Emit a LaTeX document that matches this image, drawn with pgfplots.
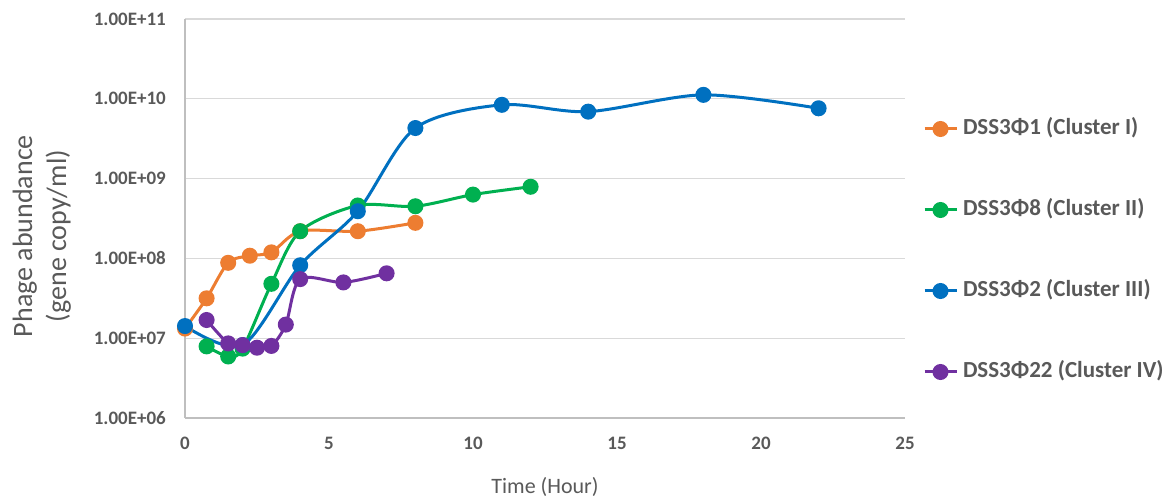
\documentclass[border=0pt]{standalone}
\usepackage{pgfplots}
\pgfplotsset{compat=1.18}
\usepackage{fontspec}
\setmainfont{Carlito}
\definecolor{c1}{HTML}{ED7D31}
\definecolor{c2}{HTML}{00B050}
\definecolor{c3}{HTML}{0070C0}
\definecolor{c4}{HTML}{7030A0}
\definecolor{txt}{HTML}{595959}
\definecolor{gridc}{HTML}{D9D9D9}
\definecolor{axl}{HTML}{BFBFBF}
\pgfplotstableread{
x y
0 1.32e7
0.75 3.16e7
1.5 8.8e7
2.25 1.08e8
3 1.19e8
4 2.19e8
6 2.19e8
8 2.79e8
}\tA
\pgfplotstableread{
x y
0.75 7.9e6
1.5 5.9e6
2 7.4e6
3 4.8e7
4 2.19e8
6 4.6e8
8 4.5e8
10 6.3e8
12 7.9e8
}\tB
\pgfplotstableread{
x y
0 1.42e7
2 8.2e6
4 8.2e7
6 3.9e8
8 4.3e9
11 8.4e9
14 6.9e9
18 1.12e10
22 7.6e9
}\tC
\pgfplotstableread{
x y
0.75 1.69e7
1.5 8.6e6
2 8.2e6
2.5 7.6e6
3 8.0e6
3.5 1.48e7
4 5.5e7
5.5 5.0e7
7 6.5e7
}\tD
\begin{document}
\begin{tikzpicture}
\path[use as bounding box] (0,0) rectangle (1170pt,502pt);
\begin{axis}[
  at={(185pt,84pt)}, anchor=south west,
  scale only axis, width=720pt, height=399pt,
  xmin=0, xmax=25, ymode=log, ymin=1e6, ymax=1e11,
  axis x line=bottom, axis y line=left,
  axis line style={-, draw=axl, line width=1.3pt},
  major tick length=0pt,
  xtick={0,5,10,15,20,25},
  xticklabels={0,5,10,15,20,25},
  ytick={1e6,1e7,1e8,1e9,1e10,1e11},
  yticklabels={1.00E+06,1.00E+07,1.00E+08,1.00E+09,1.00E+10,1.00E+11},
  minor ytick={}, yminorticks=false,
  ymajorgrids, major grid style={draw=gridc, line width=1.3pt},
  ticklabel style={font=\bfseries\fontsize{19}{22}\selectfont, text=txt, inner sep=0pt},
  xticklabel style={anchor=north, yshift=-19pt},
  yticklabel style={anchor=east, xshift=-19pt},
  xlabel={Time (Hour)},
  xlabel style={font=\fontsize{22}{26}\selectfont, text=txt, at={(axis description cs:0.5,-0.188)}, anchor=base},
  ylabel={Phage abundance\\(gene copy/ml)},
  ylabel style={align=center, font=\fontsize{28}{34}\selectfont, text=txt, at={(axis description cs:-0.199,0.456)}, anchor=center},
  clip=false,
  legend cell align=left,
  legend image code/.code={\draw[mark repeat=2,mark phase=2] plot coordinates {(0pt,0pt) (16pt,0pt) (32pt,0pt)};},
  legend style={at={(axis description cs:1.025,0.7506)}, anchor=north west, draw=none, fill=none,
    inner sep=0pt, outer sep=0pt, row sep=60pt,
    font=\bfseries\fontsize{23}{27}\selectfont, text=txt,
    nodes={inner sep=0pt, text height=16pt, text depth=5pt},
    /tikz/every odd column/.append style={column sep=5pt}},
]
\addplot[c1, line width=3pt, mark=*, mark size=6.5pt, smooth] table[x=x,y=y] {\tA};
\addlegendentry{DSS3Φ1 (Cluster I)}
\addplot[c2, line width=3pt, mark=*, mark size=6.5pt, smooth] table[x=x,y=y] {\tB};
\addlegendentry{DSS3Φ8 (Cluster II)}
\addplot[c3, line width=3pt, mark=*, mark size=6.5pt, smooth] table[x=x,y=y] {\tC};
\addlegendentry{DSS3Φ2 (Cluster III)}
\addplot[c4, line width=3pt, mark=*, mark size=6.5pt, smooth] table[x=x,y=y] {\tD};
\addlegendentry{DSS3Φ22 (Cluster IV)}
\end{axis}
\end{tikzpicture}
\end{document}
